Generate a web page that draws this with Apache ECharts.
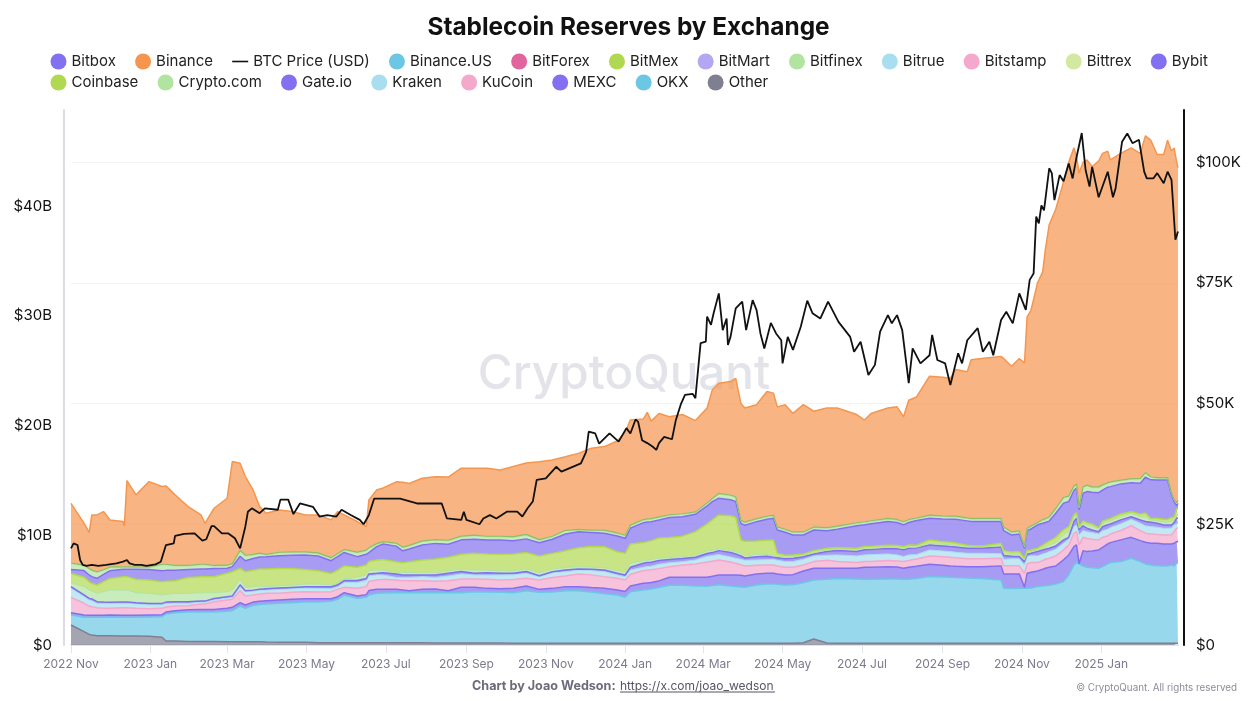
<!DOCTYPE html>
<html>
<head>
<meta charset="utf-8">
<title>Stablecoin Reserves by Exchange</title>
<script src="https://cdn.jsdelivr.net/npm/echarts@6/dist/echarts.min.js"></script>
<style>
html, body { margin: 0; padding: 0; background: #fff; }
#chart { width: 1250px; height: 701px; }
</style>
</head>
<body>
<div id="chart"></div>
<script>
// days counted from 2022-11-01
const stackDays = [
  0,10,14,16,20,25,30,40,41,43,50,60,70,73,80,90,100,103,110,120,124,130,134,140,145,150,160,170,180,190,200,205,210,
  220,227,229,235,240,250,255,260,270,280,290,300,310,320,330,340,350,360,370,380,390,400,410,420,426,430,
  440,443,446,452,460,470,480,489,493,498,507,511,515,518,527,535,540,543,549,555,563,571,581,589,604,610,615,628,635,640,644,
  650,660,670,676,680,689,692,700,715,717,723,729,733,735,738,743,747,749,752,757,763,767,771,773,775,778,781,785,790,793,797,799,807,815,822,826,830,835,840,843,846,848,850,851
];

// reserves in $B
const otherValues = [
  1.82,1.22,.97,.91,.85,.85,.85,.82,.82,.82,.82,.79,.70,.36,.36,.33,.33,.33,.33,.30,.30,.30,.30,.30,.30,.27,.24,.24,.24,.21,.21,.21,.21,
  .20,.20,.20,.20,.20,.20,.20,.20,.20,.19,.19,.19,.18,.18,.18,.17,.17,.17,.17,.16,.16,.16,.16,.16,.16,.16,
  .16,.16,.16,.16,.16,.16,.16,.16,.16,.16,.16,.16,.16,.16,.16,.16,.16,.16,.16,.16,.20,.55,.18,.16,.16,.16,.16,.16,.16,.16,.16,
  .16,.16,.16,.16,.16,.16,.16,.16,.16,.16,.16,.16,.16,.16,.16,.16,.16,.16,.16,.16,.16,.16,.16,.16,.16,.16,.16,.16,.16,.16,.16,.16,.16,.16,.16,.16,.16,.16,.16,.16,.16,.16,.16,.16
];
const okxValues = [
  .91,1.31,1.55,1.61,1.67,1.68,1.70,1.70,1.70,1.70,1.70,1.76,1.88,2.46,2.58,2.67,2.67,2.67,2.67,2.77,2.83,3.25,3.04,3.31,3.38,3.47,3.56,3.62,3.68,3.71,3.77,3.95,4.32,
  4.06,4.15,4.36,4.51,4.54,4.57,4.57,4.57,4.57,4.58,4.58,4.58,4.68,4.65,4.62,4.60,4.78,4.63,4.66,4.79,4.79,4.67,4.52,4.40,4.19,4.70,
  4.86,4.89,4.95,5.07,5.28,5.28,5.22,5.19,5.25,5.34,5.22,5.16,5.13,5.10,5.31,5.40,5.40,5.37,5.31,5.34,5.48,5.38,5.81,5.89,5.86,5.83,5.83,5.86,5.86,5.83,5.83,
  5.89,6.07,6.04,6.01,5.98,5.95,5.92,5.89,5.77,5.01,4.98,5.01,5.01,5.01,5.04,5.16,5.22,5.25,5.28,5.40,5.62,6.22,7.13,7.35,7.23,7.04,6.92,6.89,6.83,6.98,7.23,7.35,7.44,7.74,7.44,7.23,7.13,7.07,7.04,7.04,7.13,7.04,7.29,7.35
];
const mexcValues = [
  .21,.21,.18,.18,.18,.18,.18,.18,.18,.18,.18,.18,.18,.18,.18,.21,.24,.24,.24,.27,.30,.30,.30,.30,.30,.30,.30,.30,.30,.30,.24,.24,.24,
  .21,.24,.40,.36,.33,.30,.24,.18,.30,.33,.18,.49,.40,.33,.33,.40,.43,.27,.33,.36,.36,.40,.49,.46,.52,.52,
  .61,.61,.58,.61,.73,.73,.79,.82,.85,.88,1.00,1.06,1.06,1.03,1.00,.97,.97,.94,.91,.91,1.06,1.06,1.00,.94,.97,1.09,1.09,1.12,1.09,1.00,1.09,
  1.12,1.12,1.06,1.03,1.03,1.03,1.06,1.09,1.28,1.31,1.34,1.31,.09,1.37,1.43,1.43,1.52,1.58,1.64,1.64,1.98,1.82,1.67,1.61,.01,1.40,1.43,1.52,1.67,1.76,1.82,1.82,1.98,1.91,1.91,1.98,1.98,2.04,2.01,2.01,1.91,2.07,1.98,1.88
];
const kucoinValues = [
  1.40,1.06,.85,.79,.70,.65,.61,.70,.70,.70,.64,.58,.58,.46,.43,.36,.49,.49,.70,.76,.73,1.09,.82,.64,.66,.67,.61,.64,.64,.61,.64,.67,.49,
  .70,.73,.82,.85,.91,.85,.85,.91,.79,.70,.91,.76,.76,.82,.79,.79,.70,.85,1.00,.97,1.16,1.16,1.06,1.06,1.06,1.06,
  1.16,1.16,1.16,1.12,.97,1.12,1.22,1.40,1.37,1.37,1.19,1.06,.97,.91,.79,.76,.76,.73,.70,.67,.55,.61,.73,.61,.52,.52,.52,.55,.55,.61,.61,
  .67,.76,.79,.79,.79,.73,.73,.73,.70,.73,.73,.73,1.28,.85,.88,.76,.79,.82,.82,.91,.91,.91,1.22,1.22,1.73,1.22,1.19,1.06,.91,.91,.73,.79,.85,1.06,.91,.82,.85,.79,.82,.82,.85,1.06,1.22,1.22
];
const krakenValues = [
  .82,.61,.55,.55,.40,.42,.43,.40,.40,.40,.40,.36,.33,.33,.27,.24,.18,.18,.18,.18,.18,.36,.40,.36,.36,.30,.36,.33,.33,.33,.27,.24,.43,
  .52,.55,.52,.46,.40,.24,.30,.30,.36,.36,.43,.46,.36,.40,.46,.43,.46,.30,.43,.40,.36,.40,.46,.30,.30,.40,
  .30,.33,.33,.40,.36,.30,.36,.52,.52,.49,.46,.46,.49,.52,.49,.49,.52,.52,.52,.52,.52,.52,.46,.61,.61,.61,.64,.61,.55,.46,.52,
  .40,.55,.52,.52,.49,.49,.49,.49,.40,.61,.64,.64,.76,.67,.64,.61,.61,.55,.61,.61,.61,.52,.61,.61,.91,.61,.61,.61,.55,.61,.61,.58,.61,.58,.67,.67,.67,.67,.61,.61,.61,.61,.46,.46
];
const gateValues = [
  .15,.15,.15,.15,.15,.13,.12,.12,.12,.12,.12,.12,.12,.12,.12,.12,.09,.09,.12,.12,.12,.18,.09,.09,.09,.12,.12,.12,.12,.15,.18,.18,.18,
  .18,.18,.18,.15,.21,.30,.21,.21,.15,.21,.24,.21,.15,.21,.15,.15,.15,.09,.09,.15,.09,.12,.15,.15,.15,.24,
  .36,.36,.36,.33,.30,.30,.24,.24,.27,.36,.40,.40,.30,.21,.30,.30,.18,.24,.27,.30,.24,.18,.33,.40,.40,.46,.46,.49,.55,.61,.61,
  .61,.46,.46,.46,.49,.46,.46,.46,.61,.33,.24,.21,.30,.21,.21,.40,.36,.36,.30,.30,.30,.18,.46,.61,.46,.43,.33,.24,.21,.36,.40,.33,.36,.24,.30,.40,.40,.36,.30,.30,.27,.21,.46,.46
];
const cryptoComValues = [
  .36,.76,.76,.73,.76,.95,1.12,1.09,1.09,1.09,.91,.91,.76,.70,.76,.76,.76,.76,.52,.46,.55,.49,.30,.30,.28,.18,.21,.21,.24,.24,.15,.12,.15,
  .30,.33,.30,.30,.24,.15,.24,.24,.21,.21,.24,.21,.30,.24,.24,.21,.24,.27,.24,.24,.21,.18,.21,.24,.30,.37,
  .24,.24,.24,.24,.18,.15,.21,.24,.21,.18,.18,.21,.24,.21,.21,.18,.18,.15,.12,.12,.12,.12,.15,.12,.15,.15,.12,.12,.12,.12,.09,
  .06,.15,.15,.15,.15,.15,.15,.12,.12,.21,.15,.15,.15,.15,.15,.15,.15,.18,.30,.30,.46,.52,.40,.30,.15,.24,.30,.36,.24,.30,.30,.27,.30,.30,.30,.40,.21,.24,.24,.24,.36,.24,.30,.30
];
const coinbaseValues = [
  .85,.85,.76,.70,.76,.92,1.06,1.22,1.22,1.22,1.22,1.22,1.22,1.19,1.15,1.46,1.46,1.46,1.46,1.67,1.67,1.00,1.43,1.52,1.55,1.61,1.58,1.52,1.34,1.22,1.06,1.22,1.19,
  .91,.91,.82,.91,.97,.97,.88,.97,1.16,1.25,1.22,1.37,1.52,1.46,1.49,1.55,1.49,1.52,1.43,1.52,1.73,1.88,1.91,1.73,1.67,1.76,
  1.64,1.67,1.73,1.82,1.82,1.88,2.13,2.46,2.77,3.07,3.16,3.13,1.22,1.31,1.22,1.28,1.40,.24,.18,.18,.12,.18,.15,.15,.15,.15,.18,.18,.18,.18,.21,
  .18,.30,.24,.24,.21,.12,.09,.09,.24,.24,.24,.30,.15,.18,.15,.15,.30,.36,.36,.49,.46,.46,.21,.21,.15,.21,.21,.18,.12,.21,.21,.24,.24,.15,.24,.36,.15,.21,.27,.27,.33,.30,.52,.61
];
const bybitValues = [
  .36,.61,.61,.61,.61,.65,.70,.67,.67,.67,.91,.97,1.00,1.00,.97,.73,.70,.70,.76,.46,.46,1.12,1.00,1.06,1.09,1.12,1.16,1.19,1.31,1.34,1.16,1.22,1.22,
  .97,.97,.82,1.22,1.40,1.43,1.09,1.16,1.37,1.43,1.19,1.31,1.28,1.28,1.31,1.19,1.25,1.22,1.28,1.52,1.46,1.28,1.22,1.43,1.37,1.43,
  1.82,1.79,1.73,1.64,1.82,1.76,1.58,1.64,1.67,1.52,1.46,1.43,1.52,1.46,1.76,1.91,1.98,2.13,2.10,1.82,1.73,1.88,1.61,1.67,2.04,1.98,2.04,2.16,2.10,1.98,2.04,
  2.25,1.98,2.07,2.10,2.16,2.22,2.19,2.22,1.98,1.82,1.55,1.61,.91,1.82,1.91,2.13,1.98,1.91,1.82,2.19,2.43,2.28,2.22,2.22,1.52,2.52,2.83,2.89,3.19,2.83,2.92,2.89,2.74,2.64,2.80,3.28,3.50,3.50,3.59,3.59,2.04,1.37,.30,.46
];
const bitfinexValues = [
  .45,.36,.45,.45,.45,.29,.20,.08,.08,.08,.08,.08,.45,.42,.30,.24,.30,.30,.14,.14,.14,.39,.36,.24,.22,.08,.17,.17,.14,.14,.14,.14,.14,
  .27,.24,.30,.14,.08,.14,.20,.20,.24,.20,.24,.20,.24,.20,.20,.24,.27,.14,.14,.20,.08,.08,.14,.14,.14,.14,
  .14,.14,.14,.14,.11,.14,.08,.14,.14,.30,.30,.30,.14,.14,.14,.14,.14,.14,.14,.14,.14,.14,.14,.14,.14,.14,.14,.14,.14,.14,.14,
  .09,.14,.14,.14,.14,.14,.14,.14,.14,.20,.14,.14,.08,.08,.14,.08,.20,.20,.24,.30,.39,.36,.27,.24,.14,.45,.45,.36,.39,.33,.27,.30,.20,.24,.30,.27,.14,.08,.08,.08,.08,.08,.14,.14
];
const binanceValues = [
  5.41,3.80,3.25,5.01,5.16,5.28,4.26,4.11,3.71,7.84,6.54,7.76,7.06,7.12,6.40,5.33,4.47,3.71,5.18,6.08,9.28,7.93,7.15,5.85,4.22,3.72,3.84,3.66,3.35,3.44,3.42,3.81,3.12,
  2.77,2.13,4.34,4.86,4.87,5.56,5.88,5.62,5.69,5.71,5.72,6.17,6.08,6.17,6.02,6.38,6.48,7.08,6.93,6.68,6.90,7.44,7.60,8.36,9.37,9.56,
  9.15,9.69,8.86,9.41,8.91,9.02,8.30,8.63,9.88,10.03,10.31,10.77,10.61,10.39,10.36,11.35,11.10,10.92,11.33,10.78,11.58,10.52,10.88,10.75,9.84,9.25,9.76,10.05,10.24,9.55,10.84,
  11.01,12.65,12.61,12.54,13.34,13.29,14.45,14.55,14.74,15.32,15.07,15.68,16.65,19.24,19.63,21.81,22.55,24.47,26.61,27.24,28.72,30.41,30.79,29.81,30.38,29.56,29.61,29.17,29.67,30.19,30.19,29.31,29.76,30.12,29.61,30.67,30.65,29.42,29.42,30.72,31.10,32.00,31.01,30.30
];
// very thin layers, barely visible in the picture
const bittrexValues = [
  .03,.03,.03,.03,.03,.03,.03,.03,.03,.03,.03,.03,.03,.03,.03,.03,.03,.03,.03,.03,.03,.03,.03,.03,.03,.03,.03,.03,.03,.03,.03,.03,.03,
  .03,.03,.03,.03,.03,.03,.03,.03,.03,.03,.03,.03,.03,.03,.03,.03,.03,.03,.03,.03,.03,.03,.03,.03,.03,.03,
  .03,.03,.03,.03,.03,.03,.03,.03,.03,.03,.03,.03,.03,.03,.03,.03,.03,.03,.03,.03,.03,.03,.03,.03,.03,.03,.03,.03,.03,.03,.03,
  .03,.03,.03,.03,.03,.03,.03,.03,.03,.03,.03,.03,.03,.03,.03,.03,.03,.03,.03,.03,.03,.03,.03,.03,.03,.03,.03,.03,.03,.03,.03,.03,.03,.03,.03,.03,.03,.03,.03,.03,.03,.03,.03,.03
];
const bitstampValues = [
  .02,.02,.02,.02,.02,.02,.02,.02,.02,.02,.02,.02,.02,.02,.02,.02,.02,.02,.02,.02,.02,.02,.02,.02,.02,.02,.02,.02,.02,.02,.02,.02,.02,
  .02,.02,.02,.02,.02,.02,.02,.02,.02,.02,.02,.02,.02,.02,.02,.02,.02,.02,.02,.02,.02,.02,.02,.02,.02,.02,
  .02,.02,.02,.02,.02,.02,.02,.02,.02,.02,.02,.02,.02,.02,.02,.02,.02,.02,.02,.02,.02,.02,.02,.02,.02,.02,.02,.02,.02,.02,.02,
  .02,.02,.02,.02,.02,.02,.02,.02,.02,.02,.02,.02,.02,.02,.02,.02,.02,.02,.02,.02,.02,.02,.02,.02,.02,.02,.02,.02,.02,.02,.02,.02,.02,.02,.02,.02,.02,.02,.02,.02,.02,.02,.02,.02
];
const bitrueValues = bitstampValues.slice();
const bitmartValues = bitstampValues.slice();
const bitmexValues = [
  .05,.05,.05,.05,.05,.05,.05,.05,.05,.05,.05,.05,.05,.05,.05,.05,.05,.05,.05,.05,.05,.05,.05,.05,.05,.05,.05,.05,.05,.05,.05,.05,.05,
  .05,.05,.05,.05,.05,.05,.05,.05,.05,.05,.05,.05,.05,.05,.05,.05,.05,.05,.05,.05,.05,.05,.05,.05,.05,.05,
  .05,.05,.05,.05,.05,.05,.05,.05,.05,.05,.05,.05,.05,.05,.05,.05,.05,.05,.05,.05,.05,.05,.05,.05,.05,.05,.05,.05,.05,.05,.05,
  .05,.05,.05,.05,.05,.05,.05,.05,.05,.05,.05,.05,.05,.05,.05,.05,.05,.05,.05,.05,.05,.05,.05,.05,.05,.05,.05,.05,.05,.05,.05,.05,.05,.05,.05,.05,.05,.05,.05,.05,.05,.05,.05,.05
];
const bitforexValues = [
  .01,.01,.01,.01,.01,.01,.01,.01,.01,.01,.01,.01,.01,.01,.01,.01,.01,.01,.01,.01,.01,.01,.01,.01,.01,.01,.01,.01,.01,.01,.01,.01,.01,
  .01,.01,.01,.01,.01,.01,.01,.01,.01,.01,.01,.01,.01,.01,.01,.01,.01,.01,.01,.01,.01,.01,.01,.01,.01,.01,
  .01,.01,.01,.01,.01,.01,.01,.01,.01,.01,.01,.01,.01,.01,.01,.01,.01,.01,.01,.01,.01,.01,.01,.01,.01,.01,.01,.01,.01,.01,.01,
  .01,.01,.01,.01,.01,.01,.01,.01,.01,.01,.01,.01,.01,.01,.01,.01,.01,.01,.01,.01,.01,.01,.01,.01,.01,.01,.01,.01,.01,.01,.01,.01,.01,.01,.01,.01,.01,.01,.01,.01,.01,.01,.01,.01
];
const binanceUsValues = bitforexValues.slice();
const bitboxValues = [
  0,0,0,0,0,0,0,0,0,0,0,0,0,0,0,0,0,0,0,0,0,0,0,0,0,0,0,0,0,0,0,0,0,
  0,0,0,0,0,0,0,0,0,0,0,0,0,0,0,0,0,0,0,0,0,0,0,0,0,0,
  0,0,0,0,0,0,0,0,0,0,0,0,0,0,0,0,0,0,0,0,0,0,0,0,0,0,0,0,0,0,0,
  0,0,0,0,0,0,0,0,0,0,0,0,0,0,0,0,0,0,0,0,0,0,0,0,0,0,0,0,0,0,0,0,0,0,0,0,0,0,0,0,0,0,0,0
];

// BTC price in $K
const btcDays = [
  0,2,5,7,9,12,16,21,27,28,35,40,43,45,49,54,58,65,69,73,79,80,87,95,101,104,108,110,116,121,126,130,134,136,139,145,149,159,161,167,171,176,186,191,197,204,208,215,222,225,229,233,244,253,266,285,289,300,302,304,314,317,322,327,335,343,347,351,355,358,365,373,377,392,396,398,403,406,414,421,427,430,
  434,436,439,443,447,450,452,456,462,465,469,472,478,480,484,488,489,492,494,498,501,504,505,507,511,516,519,524,527,530,533,538,542,546,547,551,555,561,566,570,576,582,590,599,602,607,613,618,622,628,631,635,639,644,647,653,660,662,666,672,676,682,685,689,697,701,706,709,715,719,724,729,
  734,737,740,742,744,746,748,752,754,756,760,763,767,770,773,777,780,783,785,790,797,801,803,808,812,816,821,825,827,832,835,840,843,846,849,851
];
const btcPrices = [
  20.0,21.05,20.7,17.6,16.6,16.4,16.6,16.4,16.6,16.9,16.9,17.25,17.6,16.9,16.6,16.6,16.4,16.7,17.25,20.7,21.05,22.6,23.0,23.1,21.6,21.9,24.6,24.6,23.1,23.1,22.1,20.0,24.5,27.6,28.3,27.3,28.3,28.0,30.1,30.1,27.1,29.3,28.6,26.6,26.9,26.6,28.0,26.9,25.9,25.0,26.9,30.3,30.3,30.3,29.3,29.3,26.2,25.9,27.6,25.9,25.0,26.2,26.9,26.2,27.6,27.6,26.6,28.3,29.7,34.2,34.5,36.9,35.9,37.6,40.0,44.2,43.8,41.7,43.8,42.1,44.9,43.8,
  46.7,46.2,42.4,41.8,41.1,40.4,41.8,43.1,42.6,46.6,50.0,51.8,52.0,51.1,62.5,62.8,68.0,66.3,68.7,72.8,65.2,67.6,62.1,63.8,69.7,71.1,65.2,71.4,69.4,64.5,61.4,66.7,64.5,63.1,58.3,63.8,61.1,65.9,71.3,68.7,67.6,71.1,66.9,63.8,60.7,62.8,55.9,58.0,64.9,68.3,66.6,68.3,65.2,54.2,61.4,58.3,60.0,64.2,59.0,58.3,53.8,60.4,58.3,63.1,65.6,60.7,62.8,60.0,67.3,69.0,66.6,72.8,
  69.4,75.6,76.9,88.7,87.3,91.0,90.0,98.7,97.7,92.1,97.3,96.0,99.7,96.6,101.0,106.0,98.3,94.9,99.0,92.7,98.0,92.7,94.5,104.2,105.9,103.9,104.6,98.0,96.6,96.6,97.7,95.6,98.0,96.3,83.9,85.6
];

const tickDays = [0,61,120,181,242,304,365,426,486,547,608,670,731,792];
const tickLabels = ["2022 Nov","2023 Jan","2023 Mar","2023 May","2023 Jul","2023 Sep","2023 Nov","2024 Jan","2024 Mar","2024 May","2024 Jul","2024 Sep","2024 Nov","2025 Jan"];

const legendRow1 = ["Bitbox","Binance","BTC Price (USD)","Binance.US","BitForex","BitMex","BitMart","Bitfinex","Bitrue","Bitstamp","Bittrex","Bybit"];
const legendRow2 = ["Coinbase","Crypto.com","Gate.io","Kraken","KuCoin","MEXC","OKX","Other"];

// stacking goes bottom to top, opposite of the legend
const stackLayers = [
  { name: "Other", color: "#7f7f92", values: otherValues, line: 1.5 },
  { name: "OKX", color: "#6cc7e4", values: okxValues, line: 1.5 },
  { name: "MEXC", color: "#8270f0", values: mexcValues, line: 1.5 },
  { name: "KuCoin", color: "#f3a8cc", values: kucoinValues, line: 1.5 },
  { name: "Kraken", color: "#a8def0", values: krakenValues, line: 1 },
  { name: "Gate.io", color: "#8270f0", values: gateValues, line: 1.5 },
  { name: "Crypto.com", color: "#b0e4a0", values: cryptoComValues, line: 1 },
  { name: "Coinbase", color: "#b0d850", values: coinbaseValues, line: 1.5 },
  { name: "Bybit", color: "#8270f0", values: bybitValues, line: 1.5 },
  { name: "Bittrex", color: "#d3e8a0", values: bittrexValues, line: 0 },
  { name: "Bitstamp", color: "#f3a8cc", values: bitstampValues, line: 0 },
  { name: "Bitrue", color: "#a8def0", values: bitrueValues, line: 0 },
  { name: "Bitfinex", color: "#b0e4a0", values: bitfinexValues, line: 1 },
  { name: "BitMart", color: "#b3a6f2", values: bitmartValues, line: 0 },
  { name: "BitMex", color: "#b0d850", lineColor: "#8fbf62", values: bitmexValues, line: 1.2 },
  { name: "BitForex", color: "#e0659f", values: bitforexValues, line: 0 },
  { name: "Binance.US", color: "#6cc7e4", values: binanceUsValues, line: 0 },
  { name: "Bitbox", color: "#8270f0", values: bitboxValues, line: 0 },
  { name: "Binance", color: "#f5964f", values: binanceValues, line: 1.5 }
];

const FONT = "Inter";

// value comes first in each row so echarts stacks on y, x axis being numeric too
const series = stackLayers.map(layer => ({
  name: layer.name,
  type: "line",
  stack: "reserves",
  symbol: "none",
  yAxisIndex: 0,
  encode: { x: 1, y: 0 },
  itemStyle: { color: layer.color },
  lineStyle: { color: layer.lineColor || layer.color, width: layer.line },
  areaStyle: { color: layer.color, opacity: 0.7 },
  data: stackDays.map((d, i) => [layer.values[i], d])
}));
series.push({
  name: "BTC Price (USD)",
  type: "line",
  symbol: "none",
  yAxisIndex: 1,
  z: 5,
  itemStyle: { color: "#111" },
  lineStyle: { color: "#111", width: 1.8 },
  data: btcDays.map((d, i) => [d, btcPrices[i]])
});

const legendBase = {
  left: 45.5,
  itemWidth: 16,
  itemHeight: 16,
  itemGap: 19.2,
  selectedMode: false,
  textStyle: { fontFamily: FONT, fontSize: 15, color: "#222" }
};
const btcDash = "path://M0 0M0 7.2h16v1.6H0zM16 16";
const legendItem = name => name === "BTC Price (USD)" ? { name, icon: btcDash } : { name, icon: "circle" };

const option = {
  animation: false,
  backgroundColor: "#fff",
  title: {
    text: "Stablecoin Reserves by Exchange",
    left: 623.5,
    top: 11,
    textAlign: "center",
    textStyle: { fontFamily: FONT, fontSize: 24.4, fontWeight: 700, color: "#111" }
  },
  legend: [
    Object.assign({}, legendBase, { top: 48.5, data: legendRow1.map(legendItem) }),
    Object.assign({}, legendBase, { top: 69.5, data: legendRow2.map(legendItem) })
  ],
  grid: { left: 71, right: 72, top: 110, bottom: 56 },
  xAxis: {
    type: "value",
    min: 0,
    max: 851,
    axisLine: { lineStyle: { color: "#e2e2ea", width: 2 } },
    axisTick: { show: true, length: 8, customValues: tickDays, lineStyle: { color: "#e2e2ea" } },
    axisLabel: {
      customValues: tickDays,
      formatter: value => tickLabels[tickDays.indexOf(value)] || "",
      margin: 13,
      fontFamily: FONT,
      fontSize: 12,
      color: "#7b7b8d"
    },
    splitLine: { show: false }
  },
  yAxis: [
    {
      type: "value",
      position: "left",
      min: 0,
      max: 48.75,
      interval: 10,
      offset: 7,
      axisLine: { show: true, onZero: false, lineStyle: { color: "#dcdce6", width: 2 } },
      axisTick: { show: false },
      axisLabel: {
        showMaxLabel: false,
        margin: 12,
        fontFamily: FONT,
        fontSize: 15,
        color: "#111",
        formatter: v => v === 0 ? "$0" : "$" + v + "B"
      },
      splitLine: { show: false }
    },
    {
      type: "value",
      position: "right",
      min: 0,
      max: 110.77,
      interval: 25,
      offset: 6,
      axisLine: { show: true, onZero: false, lineStyle: { color: "#111", width: 2 } },
      axisTick: { show: false },
      axisLabel: {
        showMaxLabel: false,
        margin: 12,
        fontFamily: FONT,
        fontSize: 15,
        color: "#111",
        formatter: v => v === 0 ? "$0" : "$" + v + "K"
      },
      splitLine: { show: true, showMinLine: false, showMaxLine: false, lineStyle: { color: "#f3f3f6" } }
    }
  ],
  graphic: [
    {
      type: "text", z: 0, x: 624, y: 375,
      style: { text: "CryptoQuant", fontFamily: FONT, fontSize: 47.6, fontWeight: 500, fill: "#e3e3ea", align: "center", verticalAlign: "middle" }
    },
    {
      type: "text", x: 472, y: 686, z: 10,
      style: { text: "Chart by Joao Wedson:", fontFamily: FONT, fontSize: 12.6, fontWeight: 700, fill: "#6b6b7b", verticalAlign: "middle" }
    },
    {
      type: "text", x: 620, y: 686, z: 10,
      style: { text: "https://x.com/joao_wedson", fontFamily: FONT, fontSize: 12, fill: "#555566", verticalAlign: "middle" }
    },
    {
      type: "line", z: 10,
      shape: { x1: 620, y1: 692, x2: 775, y2: 692 },
      style: { stroke: "#555566", lineWidth: 1 }
    },
    {
      type: "text", x: 1237, y: 688, z: 10,
      style: { text: "© CryptoQuant. All rights reserved", fontFamily: FONT, fontSize: 9.8, fill: "#8c8c9a", align: "right", verticalAlign: "middle" }
    }
  ],
  series
};

const chart = echarts.init(document.getElementById("chart"));
chart.setOption(option);
window.addEventListener("resize", () => chart.resize());
</script>
</body>
</html>
